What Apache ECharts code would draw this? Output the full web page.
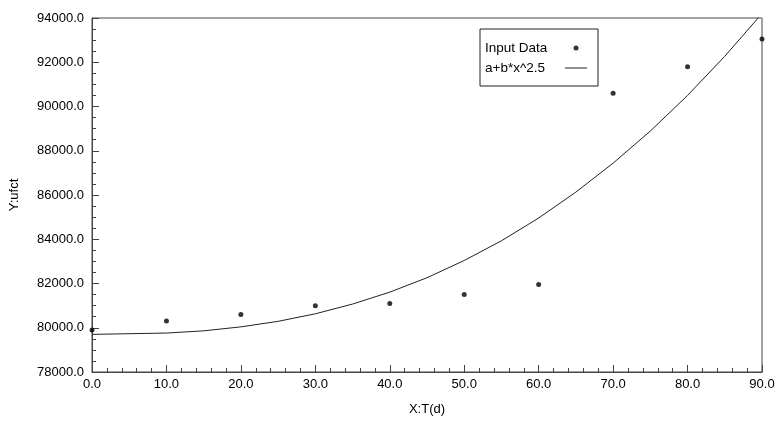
<!DOCTYPE html>
<html>
<head>
<meta charset="utf-8">
<script src="https://cdn.jsdelivr.net/npm/echarts@6/dist/echarts.min.js"></script>
<style>html,body{margin:0;padding:0;background:#fff}#c{width:778px;height:431px}</style>
</head>
<body>
<div id="c"></div>
<script>
// Input data points (X: T(d), Y: ufct)
const dataX = [0, 10, 20, 30, 40, 50, 60, 70, 80, 90];
const dataY = [79900, 80300, 80600, 81000, 81100, 81500, 81950, 90600, 91800, 93050];
// Fitted curve a+b*x^2.5
const curveX = [0, 10, 15, 20, 25, 30, 35, 40, 45, 50, 55, 60, 65, 70, 75, 80, 85, 90];
const curveY = [79700, 79760, 79860, 80040, 80290, 80630, 81070, 81610, 82260, 83040, 83930, 84960, 86130, 87440, 88890, 90500, 92270, 94200];
const seriesNames = ['Input Data', 'a+b*x^2.5'];
const xName = 'X:T(d)';
const yName = 'Y:ufct';

const font = 'Liberation Sans, Arial, sans-serif';
const legendFontSize = 13.5;
const axisColor = '#444';

// pad legend texts to a common width so icons line up
const mctx = document.createElement('canvas').getContext('2d');
mctx.font = legendFontSize + 'px ' + font;
const legendTextWidth = 75;
const pads = seriesNames.map(n => Math.max(0, legendTextWidth - mctx.measureText(n).width));

const chart = echarts.init(document.getElementById('c'), null, {renderer: 'canvas'});
chart.setOption({
  animation: false,
  backgroundColor: '#fff',
  grid: {left: 91, right: 16, top: 18, bottom: 59, show: true, borderColor: axisColor, borderWidth: 1, backgroundColor: 'transparent'},
  legend: {
    orient: 'vertical', left: 480, top: 29, align: 'right',
    padding: [12, 11, 11, 5], itemGap: 6, itemWidth: 22, itemHeight: 5,
    borderColor: '#222', borderWidth: 1, backgroundColor: '#fff',
    textStyle: {fontFamily: font, fontSize: legendFontSize, color: '#000'},
    data: [
      {name: seriesNames[0], icon: 'circle', itemStyle: {color: '#000'},
       textStyle: {fontFamily: font, fontSize: legendFontSize, color: '#000', padding: [0, pads[0], 0, 0]}},
      {name: seriesNames[1], icon: 'path://M0,0 L22,0 L22,1 L0,1 Z', itemStyle: {color: '#222'},
       textStyle: {fontFamily: font, fontSize: legendFontSize, color: '#000', padding: [0, pads[1], 0, 0]}}
    ],
    selectedMode: false
  },
  xAxis: {
    type: 'value', min: 0, max: 90, interval: 10,
    name: xName, nameLocation: 'middle', nameGap: 31,
    nameTextStyle: {fontFamily: font, fontSize: 13, color: '#000'},
    axisLine: {show: true, lineStyle: {color: axisColor}},
    axisTick: {show: true, inside: true, length: 7, lineStyle: {color: axisColor}},
    minorTick: {show: true, splitNumber: 5, length: 4, lineStyle: {color: axisColor}},
    splitLine: {show: false},
    axisLabel: {fontFamily: font, fontSize: 13, color: '#000', margin: 6, formatter: v => v.toFixed(1)}
  },
  yAxis: {
    type: 'value', min: 78000, max: 94000, interval: 2000,
    name: yName, nameLocation: 'middle', nameGap: 71,
    nameTextStyle: {fontFamily: font, fontSize: 13, color: '#000'},
    axisLine: {show: true, lineStyle: {color: axisColor}},
    axisTick: {show: true, inside: true, length: 7, lineStyle: {color: axisColor}},
    minorTick: {show: true, splitNumber: 4, length: 4, lineStyle: {color: axisColor}},
    splitLine: {show: false},
    axisLabel: {fontFamily: font, fontSize: 13, color: '#000', margin: 8, formatter: v => v.toFixed(1)}
  },
  series: [
    {
      name: seriesNames[0], type: 'scatter', symbol: 'circle', symbolSize: 5,
      itemStyle: {color: '#000'},
      data: dataX.map((x, i) => [x, dataY[i]]),
      z: 3
    },
    {
      name: seriesNames[1], type: 'line', showSymbol: false, symbol: 'none', clip: true,
      lineStyle: {color: '#222', width: 1},
      itemStyle: {color: '#222'},
      data: curveX.map((x, i) => [x, curveY[i]]),
      z: 2
    }
  ]
});
</script>
</body>
</html>
